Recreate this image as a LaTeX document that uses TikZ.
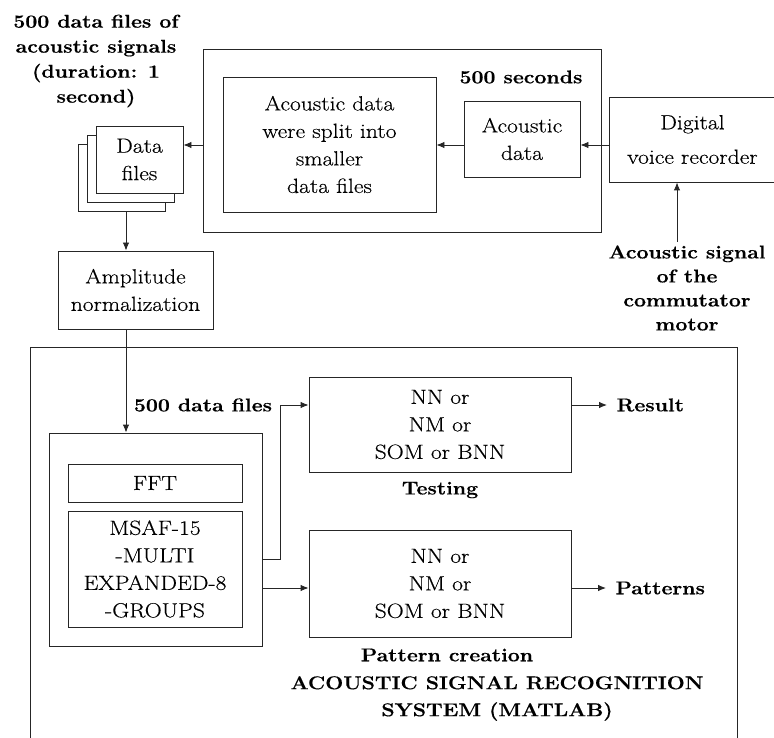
\documentclass[tikz,border=0pt]{standalone}
\usepackage{fontspec}
\setmainfont{Latin Modern Roman}[FakeStretch=1.15, UprightFeatures={FakeBold=0.35}, BoldFeatures={FakeBold=0.5}]
\usetikzlibrary{arrows.meta}

\tikzset{
  box/.style={draw=black!85, line width=0.9pt, inner sep=0pt, align=center},
  txt/.style={font=\fontsize{20.5}{27.5}\selectfont},
  lbl/.style={font=\bfseries\fontsize{18.5}{25}\selectfont, align=center},
  arr/.style={draw=black!85, line width=0.9pt, -{Latex[length=8pt,width=6.5pt]}},
}

\begin{document}
\begin{tikzpicture}[x=1pt, y=-1pt]
\useasboundingbox (0,0) rectangle (774,738);

% helper levels and columns
\coordinate (lvl) at (0,145);
\coordinate (col) at (126,0);
\coordinate (dcol) at (677,0);

% recording and splitting stage
\node[box, minimum width=398, minimum height=183] (grp) at (402,140.5) {};
\node[box, txt, minimum width=213, minimum height=135] (split) at (329.5,144.5)
  {Acoustic data\\were split into\\smaller\\data files};
\node[box, txt, minimum width=116, minimum height=76] (acd) at (522,139) {Acoustic\\data};
\node[lbl] (sec) at (521,77) {500 seconds};
\node[box, txt, minimum width=166, minimum height=85, anchor=west] (dvr) at (609,139.5)
  {Digital\\[7pt]voice recorder};
\node[lbl, font=\bfseries\fontsize{18.5}{24}\selectfont] (sig) at (687,288)
  {Acoustic signal\\of the\\commutator\\motor};

% stack of data files
\node[box, fill=white, minimum width=87, minimum height=67] (df3) at (121.5,177.5) {};
\node[box, fill=white, minimum width=87, minimum height=67] (df2) at (130.5,168.5) {};
\node[box, txt, fill=white, minimum width=87, minimum height=67] (df1) at (139.5,159.5) {Data\\files};
\node[lbl] (title) at (96,61) {500 data files of\\acoustic signals\\(duration: 1\\second)};

\node[box, txt, minimum width=155, minimum height=78] (amp) at (135.5,290) {Amplitude\\normalization};

% recognition system
\node[box, minimum width=707, minimum height=430, anchor=north west] (sys) at (30,347) {};
\node[box, minimum width=213, minimum height=213] (feat) at (155.5,539.5) {};
\node[box, txt, minimum width=174, minimum height=38] (fft) at (155,483) {FFT};
\node[box, txt, minimum width=174, minimum height=116] (msaf) at (155,569)
  {MSAF-15\\-MULTI\\EXPANDED-8\\-GROUPS};
\node[lbl] (n500) at (203,405) {500 data files};

\node[box, txt, minimum width=262, minimum height=95] (test) at (440,424.5) {NN or\\NM or\\SOM or BNN};
\node[lbl] (testl) at (440,490) {Testing};
\node[box, txt, minimum width=262, minimum height=107] (pat) at (440,583.5) {NN or\\NM or\\SOM or BNN};
\node[lbl] (patl) at (447,655) {Pattern creation};
\node[lbl, font=\bfseries\fontsize{18.5}{27}\selectfont] (sysl) at (497,698.5)
  {ACOUSTIC SIGNAL RECOGNITION\\SYSTEM (MATLAB)};

\node[lbl, anchor=west] (res) at (613,405) {Result};
\node[lbl, anchor=west] (pats) at (612,588) {Patterns};

% connectors
\draw[arr] (dvr.west |- lvl) -- (acd.east |- lvl);
\draw[arr] (acd.west |- lvl) -- (split.east |- lvl);
\draw[arr] (grp.west |- lvl) -- (df1.east |- lvl);
\draw[arr] (sig.north -| dcol) -- (dvr.south -| dcol);
\draw[arr] (df3.south -| col) -- (amp.north -| col);
\draw[arr] (amp.south -| col) -- (feat.north -| col);
\draw[arr] ([yshift=-19.5pt]feat.east) -- ++(18,0) |- (test.west |- n500);
\draw[arr] ([yshift=-48.5pt]feat.east) -- ([yshift=-4.5pt]pat.west);
\draw[arr, shorten >=6pt] (test.east |- res.west) -- (res.west);
\draw[arr, shorten >=6pt] (pat.east |- pats.west) -- (pats.west);
\end{tikzpicture}
\end{document}
